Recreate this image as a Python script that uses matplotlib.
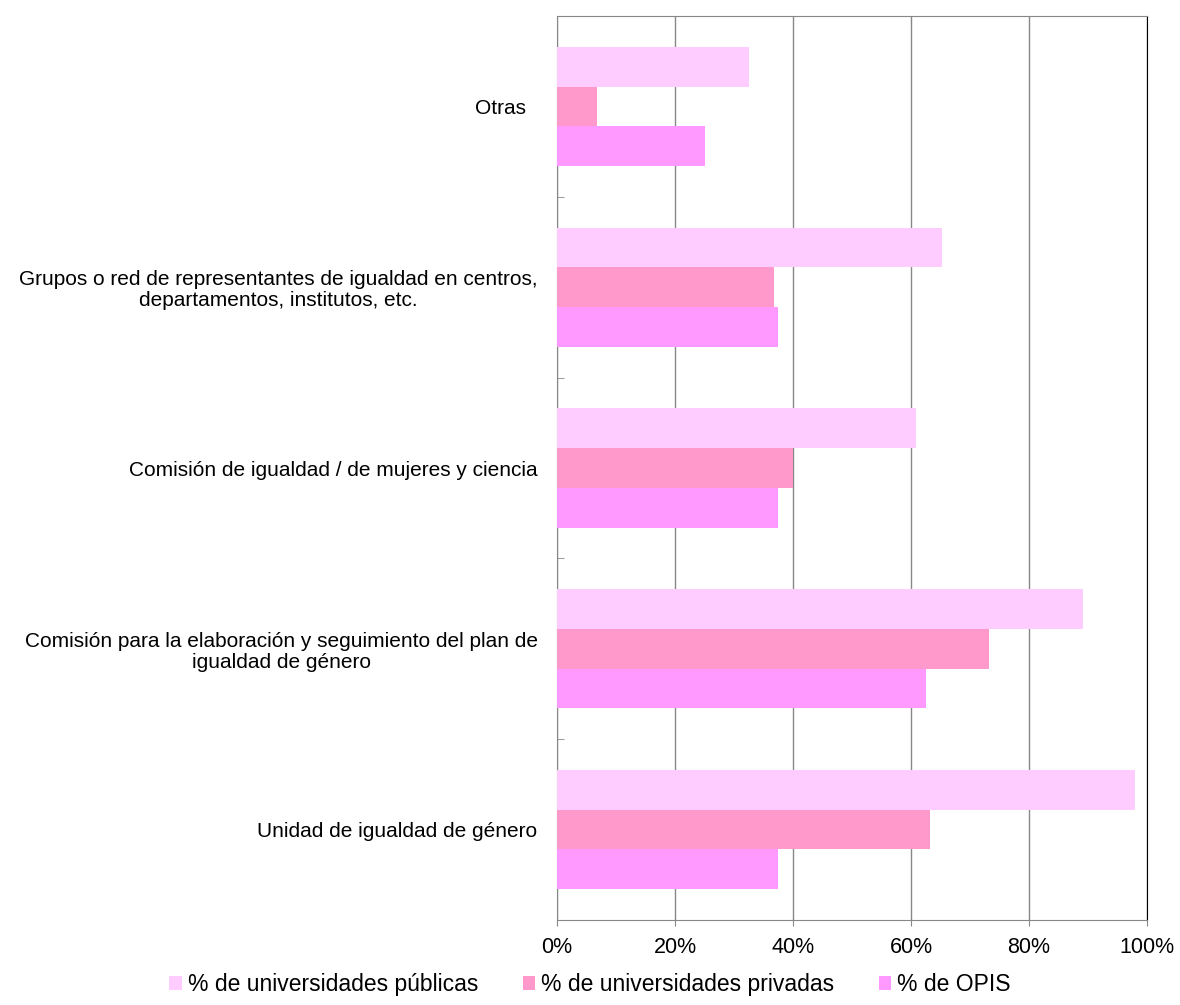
import matplotlib
matplotlib.use("Agg")
import matplotlib.pyplot as plt
import numpy as np
from matplotlib.ticker import FixedLocator, PercentFormatter

plt.rcParams['font.family'] = ['Liberation Sans', 'DejaVu Sans']

categories = [
    "Unidad de igualdad de género",
    "Comisión para la elaboración y seguimiento del plan de\nigualdad de género",
    "Comisión de igualdad / de mujeres y ciencia",
    "Grupos o red de representantes de igualdad en centros,\ndepartamentos, institutos, etc.",
    "Otras  ",
]
series_names = ["% de universidades públicas", "% de universidades privadas", "% de OPIS"]
publicas = [97.9, 89.2, 60.8, 65.3, 32.6]
privadas = [63.3, 73.3, 40.0, 36.7, 6.7]
opis = [37.5, 62.5, 37.5, 37.5, 25.0]
colors = ["#FFCCFF", "#FF99CC", "#FF99FF"]
xticks = [0, 20, 40, 60, 80, 100]

fig = plt.figure(figsize=(11.8, 10.05), dpi=100)
ax = fig.add_axes([557/1180, 1 - 920/1005, 590/1180, (920-16)/1005])

y = np.arange(len(categories))
h = 0.22
for vals, off, c, name in zip([publicas, privadas, opis], [h, 0, -h], colors, series_names):
    ax.barh(y + off, vals, height=h, color=c, label=name, zorder=3)

ax.set_xlim(0, 100)
ax.set_ylim(-0.5, len(categories) - 0.5)
ax.set_xticks(xticks)
ax.xaxis.set_major_formatter(PercentFormatter(decimals=0))
ax.grid(axis='x', color='#888888', linewidth=1.0, zorder=0)

ax.set_yticks(y)
ax.set_yticklabels(categories, fontsize=15, multialignment='center', linespacing=1.15)
ax.tick_params(axis='y', length=0, pad=14)
ax.yaxis.set_minor_locator(FixedLocator(np.arange(-0.5, len(categories), 1.0)))
ax.tick_params(axis='y', which='minor', length=5, direction='in', color='#888888')
ax.tick_params(axis='x', labelsize=15.5, length=4, color='#888888', pad=8)

for s in ['left', 'top', 'bottom']:
    ax.spines[s].set_color('#888888')
ax.spines['right'].set_color('black')

handles, labels = ax.get_legend_handles_labels()
fig.legend(handles, labels, loc='lower center', bbox_to_anchor=(0.5, -0.012), ncol=3,
           frameon=False, fontsize=16.5, handlelength=0.55, handleheight=0.55,
           handletextpad=0.25, columnspacing=1.95)

fig.savefig("out.png", dpi=100)
